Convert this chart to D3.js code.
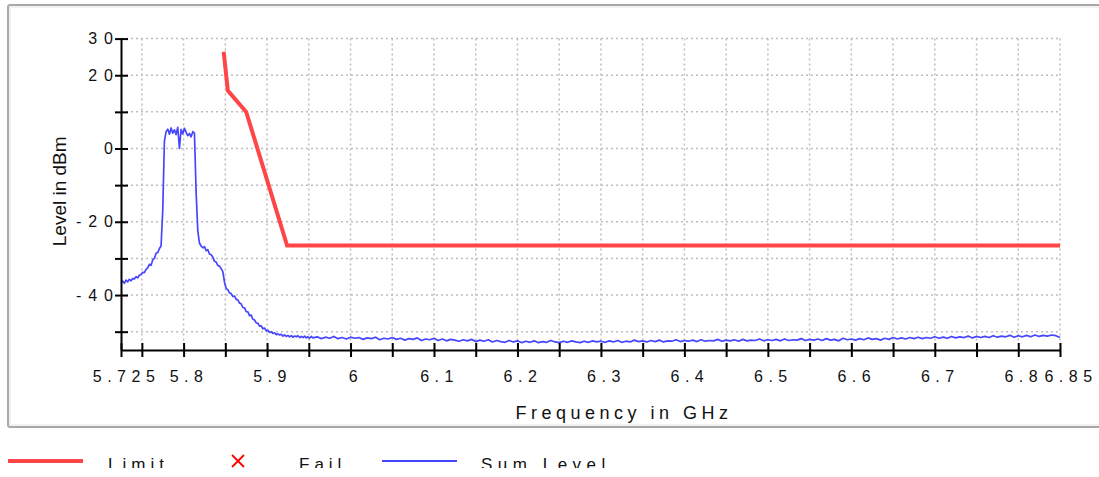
<!DOCTYPE html>
<html>
<head>
<meta charset="utf-8">
<script src="https://cdn.jsdelivr.net/npm/d3@7"></script>
<style>
  html, body { margin: 0; padding: 0; background: #fff; }
  svg { display: block; font-family: "Liberation Sans", Arial, sans-serif; }
</style>
</head>
<body>
<div id="chart"></div>
<script>
// ---------- data ----------
const xDomain = [5.725, 6.85];
const yDomain = [-55, 30];

const xTickValues = [5.725, 5.75, 5.8, 5.85, 5.9, 5.95, 6.0, 6.05, 6.1, 6.15, 6.2, 6.25, 6.3, 6.35, 6.4, 6.45, 6.5, 6.55, 6.6, 6.65, 6.7, 6.75, 6.8, 6.85];
const xTickLabels = ["5.725", "", "5.8", "", "5.9", "", "6", "", "6.1", "", "6.2", "", "6.3", "", "6.4", "", "6.5", "", "6.6", "", "6.7", "", "6.8", "6.85"];
const yTickValues = [-50, -40, -30, -20, -10, 0, 10, 20, 30];
const yTickLabels = ["", "-40", "", "-20", "", "0", "", "20", "30"];

// Limit line (GHz, dBm)
const limitFreqs = [5.848, 5.853, 5.875, 5.924, 6.85];
const limitLevels = [26.4, 15.8, 10.0, -26.5, -26.5];

// Sum Level trace, segment A: 5.725 GHz, step 2 MHz
const sumStartA = 5.725, sumStepA = 0.002;
const sumLevelA = [
  -36.6, -36.2, -36.8, -35.9, -36.4, -35.7, -36.1, -35.5, -35.6, -35.0,
  -35.3, -34.6, -34.4, -33.8, -33.9, -33.0, -32.6, -31.6, -31.9, -30.4,
  -30.0, -28.6, -28.4, -27.3, -26.6, -17.0, 2.0, 4.6, 5.3, 3.9,
  5.6, 4.2, 5.1, 3.8, 5.8, 0.0, 5.2, 4.0, 5.5, 4.4,
  3.5, 4.1, 3.2, 4.6, 4.2, -12.0, -22.5, -25.8, -26.6, -27.1,
  -26.8, -27.9, -27.6, -28.8, -29.0, -29.6, -30.8, -31.0, -31.9, -32.1,
  -32.8, -33.6, -36.5, -38.2, -38.6, -39.4, -39.6, -40.4, -40.3, -41.2,
  -41.3, -42.2, -42.4, -43.4, -43.5, -44.5, -44.6, -45.6, -45.5, -46.6,
  -46.8, -47.6, -47.7, -48.5, -48.4, -49.2, -49.0, -49.8, -49.6, -50.2,
  -50.0, -50.5, -50.3, -50.8, -50.6, -50.9, -50.7, -51.2, -50.9, -51.3,
  -51.0, -51.4, -51.1, -51.5, -51.2, -51.4, -51.1, -51.6, -51.3, -51.6,
  -51.2, -51.7, -51.4, -51.8, -51.3, -51.7
];
// Sum Level trace, segment B: 5.96 GHz, step 5 MHz
const sumStartB = 5.96, sumStepB = 0.005;
const sumLevelB = [
  -51.4, -51.9, -51.5, -51.8, -51.3, -51.9, -51.6, -52.0, -51.5, -51.8,
  -51.6, -52.1, -51.7, -51.9, -51.5, -52.2, -51.8, -52.0, -51.6, -52.1,
  -51.8, -52.3, -51.9, -52.1, -51.7, -52.4, -52.0, -52.2, -51.8, -52.4,
  -52.0, -52.5, -52.1, -52.3, -52.6, -52.2, -52.5, -52.1, -52.7, -52.3,
  -52.6, -52.2, -52.8, -52.4, -52.7, -52.9, -52.4, -52.8, -52.5, -53.0,
  -52.6, -52.9, -52.5, -53.0, -52.7, -52.9, -52.4, -52.8, -53.0, -52.6,
  -52.9, -52.5, -52.8, -53.0, -52.6, -52.9, -52.5, -52.8, -52.6, -52.9,
  -52.5, -52.8, -52.4, -52.9, -52.6, -52.8, -52.3, -52.7, -52.5, -52.8,
  -52.4, -52.7, -52.3, -52.8, -52.5, -52.6, -52.2, -52.7, -52.4, -52.6,
  -52.3, -52.7, -52.2, -52.6, -52.4, -52.5, -52.1, -52.6, -52.3, -52.5,
  -52.2, -52.6, -52.1, -52.5, -52.3, -52.4, -52.0, -52.5, -52.2, -52.4,
  -52.1, -52.5, -52.0, -52.4, -52.2, -52.3, -51.9, -52.4, -52.1, -52.3,
  -52.0, -52.4, -51.9, -52.3, -52.1, -52.5, -51.8, -52.2, -52.0, -52.3,
  -51.9, -52.2, -51.7, -52.1, -51.9, -52.3, -51.8, -52.1, -51.6, -52.0,
  -51.7, -52.0, -51.6, -51.9, -51.5, -51.9, -51.6, -51.8, -51.4, -51.8,
  -51.5, -51.8, -51.3, -51.7, -51.4, -51.6, -51.2, -51.7, -51.3, -51.6,
  -51.3, -51.6, -51.1, -51.5, -51.2, -51.4, -51.0, -51.5, -51.1, -51.4,
  -51.0, -51.4, -50.9, -51.3, -51.0, -51.2, -50.9, -51.1, -51.6
];

const legendItems = ["Limit", "Fail", "Sum Level"];

// ---------- layout ----------
const W = 1099, H = 477;
const plot = { left: 121, right: 1060, top: 38.6, bottom: 350 };

const svg = d3.select("#chart").append("svg")
  .attr("width", W).attr("height", H);

// frame
svg.append("rect")
  .attr("x", 8).attr("y", 5).attr("width", 1120).attr("height", 422)
  .attr("rx", 2)
  .attr("fill", "#fff").attr("stroke", "#a8a8a8").attr("stroke-width", 2);
svg.append("rect")
  .attr("x", 10).attr("y", 7).attr("width", 1116).attr("height", 418)
  .attr("fill", "none").attr("stroke", "#e4e4e4").attr("stroke-width", 1);

const x = d3.scaleLinear().domain(xDomain).range([plot.left, plot.right]);
const y = d3.scaleLinear().domain(yDomain).range([plot.bottom, plot.top]);

// grid
const grid = svg.append("g").attr("stroke", "#bdbdbd").attr("stroke-width", 1.5)
  .attr("stroke-dasharray", "2,3");
grid.selectAll("line.v").data(xTickValues.slice(1)).join("line")
  .attr("class", "v")
  .attr("x1", d => x(d)).attr("x2", d => x(d))
  .attr("y1", y(30)).attr("y2", plot.bottom);
grid.selectAll("line.h").data(yTickValues).join("line")
  .attr("class", "h")
  .attr("x1", plot.left).attr("x2", plot.right)
  .attr("y1", d => y(d)).attr("y2", d => y(d));

// clip
svg.append("clipPath").attr("id", "plotclip").append("rect")
  .attr("x", plot.left).attr("y", plot.top - 2)
  .attr("width", plot.right - plot.left + 1).attr("height", plot.bottom - plot.top + 2);

// series
const sumData = sumLevelA.map((v, i) => [sumStartA + i * sumStepA, v])
  .concat(sumLevelB.map((v, i) => [sumStartB + i * sumStepB, v]));
const limitData = limitFreqs.map((f, i) => [f, limitLevels[i]]);

const line = d3.line().x(d => x(d[0])).y(d => y(d[1]));

const series = svg.append("g").attr("clip-path", "url(#plotclip)");
series.append("path").datum(sumData)
  .attr("d", line).attr("fill", "none")
  .attr("stroke", "#4646ff").attr("stroke-width", 1.7)
  .attr("stroke-linejoin", "round");
series.append("path").datum(limitData)
  .attr("d", line).attr("fill", "none")
  .attr("stroke", "#ff4646").attr("stroke-width", 4)
  .attr("stroke-linejoin", "miter");

// axes
const xAxis = d3.axisBottom(x).tickValues(xTickValues)
  .tickFormat((d, i) => xTickLabels[i]).tickSizeOuter(0).tickSizeInner(7).tickPadding(14);
const gx = svg.append("g").attr("transform", `translate(0,${plot.bottom})`).call(xAxis);
gx.select(".domain").attr("stroke", "#000").attr("stroke-width", 2);
gx.selectAll(".tick line").attr("y1", -7).attr("y2", 7).attr("stroke", "#000").attr("stroke-width", 2);
gx.selectAll(".tick text")
  .attr("font-size", 16).attr("fill", "#111")
  .attr("letter-spacing", 5.5)
  .attr("dx", (d, i) => i === xTickValues.length - 1 ? 10.5 : 5)
  .attr("font-family", "'Liberation Sans', Arial, sans-serif");

const yAxis = d3.axisLeft(y).tickValues(yTickValues)
  .tickFormat((d, i) => yTickLabels[i]).tickSizeOuter(0).tickSizeInner(6).tickPadding(9);
const gy = svg.append("g").attr("transform", `translate(${plot.left},0)`).call(yAxis);
gy.select(".domain").attr("stroke", "#000").attr("stroke-width", 2);
gy.selectAll(".tick line").attr("x1", -6).attr("x2", 7).attr("stroke", "#000").attr("stroke-width", 2);
gy.selectAll(".tick text")
  .attr("font-size", 16).attr("fill", "#111")
  .attr("letter-spacing", 7).attr("dx", 14)
  .attr("font-family", "'Liberation Sans', Arial, sans-serif");

// axis titles
svg.append("text")
  .attr("transform", `translate(66,${(plot.top + plot.bottom) / 2 - 3}) rotate(-90)`)
  .attr("text-anchor", "middle").attr("font-size", 19).attr("fill", "#111")
  .text("Level in dBm");
svg.append("text")
  .attr("x", 624).attr("y", 419).attr("text-anchor", "middle")
  .attr("font-size", 18).attr("letter-spacing", 4.5).attr("fill", "#111")
  .text("Frequency in GHz");

// legend (clipped at bottom like the reference)
svg.append("clipPath").attr("id", "legclip").append("rect")
  .attr("x", 0).attr("y", 435).attr("width", W).attr("height", 33);
const leg = svg.append("g").attr("clip-path", "url(#legclip)");
leg.append("line").attr("x1", 8).attr("x2", 83).attr("y1", 461).attr("y2", 461)
  .attr("stroke", "#ff4646").attr("stroke-width", 4);
leg.append("text").attr("x", 108).attr("y", 470).attr("font-size", 17)
  .attr("letter-spacing", 5).attr("fill", "#111").text(legendItems[0]);
const failMark = leg.append("g").attr("stroke", "#ff0000").attr("stroke-width", 1.8);
failMark.append("line").attr("x1", 232).attr("y1", 455).attr("x2", 244).attr("y2", 467);
failMark.append("line").attr("x1", 244).attr("y1", 455).attr("x2", 232).attr("y2", 467);
leg.append("text").attr("x", 299).attr("y", 470).attr("font-size", 17)
  .attr("letter-spacing", 5).attr("fill", "#111").text(legendItems[1]);
leg.append("line").attr("x1", 382).attr("x2", 457).attr("y1", 461).attr("y2", 461)
  .attr("stroke", "#4646ff").attr("stroke-width", 2);
leg.append("text").attr("x", 481).attr("y", 470).attr("font-size", 17)
  .attr("letter-spacing", 5.5).attr("fill", "#111").text(legendItems[2]);
</script>
</body>
</html>
